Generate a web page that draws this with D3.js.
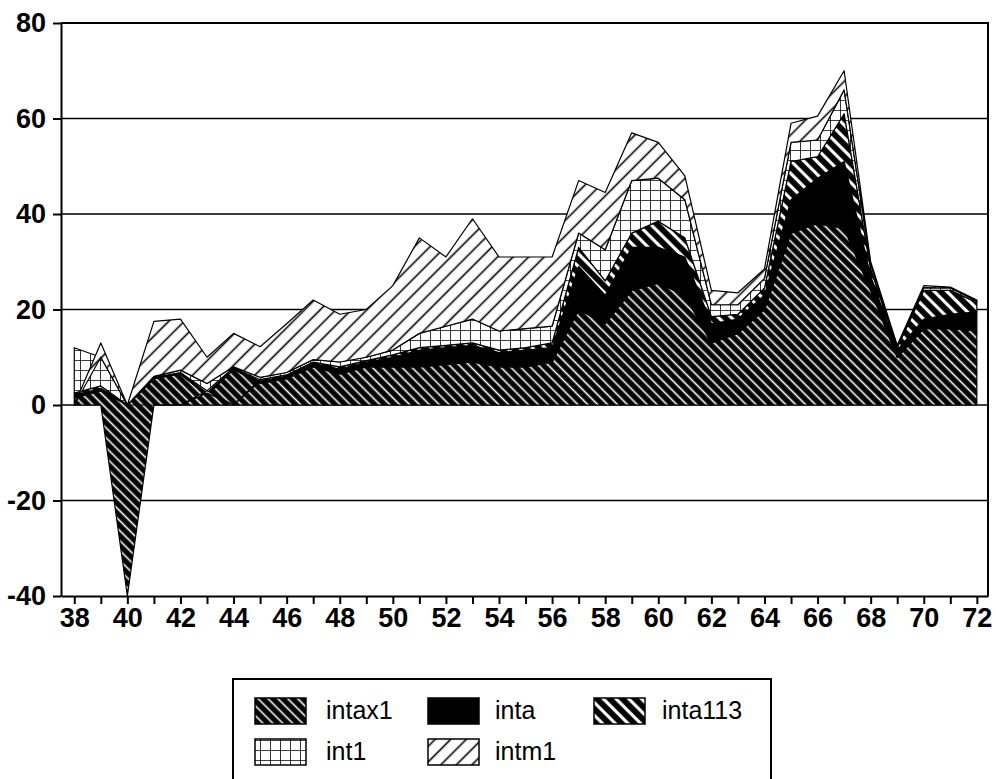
<!DOCTYPE html>
<html>
<head>
<meta charset="utf-8">
<script src="https://cdn.jsdelivr.net/npm/d3@7"></script>
<style>
    body { margin: 0; background: #fff; }
    svg { display: block; font-family: "Liberation Sans", Arial, sans-serif; }
    .axis text { font-size: 27px; font-weight: bold; fill: #000; }
    .axis path, .axis line { stroke: #000; stroke-width: 2; }
</style>
</head>
<body>
<div id="chart"></div>
<script>
// years 1938 - 1972, shown as 2 digits
const years = [38, 39, 40, 41, 42, 43, 44, 45, 46, 47, 48, 49, 50, 51, 52, 53, 54, 55, 56,
    57, 58, 59, 60, 61, 62, 63, 64, 65, 66, 67, 68, 69, 70, 71, 72];

const intax1 = [1.5, 3, -40, 5.5, 6.5, 2, 7.5, 4.5, 5.5, 8, 6.5, 8, 8, 8, 8.5, 9, 8, 8, 9,
    20, 17, 24, 25.5, 23, 13, 15, 20, 36, 38, 37, 24, 10, 16, 16, 15.5];
const inta = [0.5, 0.5, 0, 0.3, 0.3, 0.5, 0.3, 0.5, 0.5, 0.8, 1, 1, 2, 3.5, 3.5, 3.5, 3, 3.5, 3,
    9, 6, 9, 7.5, 8, 4, 3, 3, 7, 9.5, 14, 3, 1.5, 2, 3, 4];
const inta113 = [0.5, 0.5, 0, 0, 0, 0.5, 0, 0.3, 0.3, 0.2, 0.5, 0.3, 0.5, 0.5, 0.5, 0.5, 0.5, 0.5, 1,
    4, 3, 3, 5.5, 4, 1.5, 1, 1.5, 8, 4.5, 10, 1.5, 0.5, 6, 5, 2];
const int1 = [9.5, 6, 0, 0.2, 0.5, 1.5, 0.2, 0.5, 0.5, 0.5, 1, 0.7, 1, 3, 4, 5, 4, 4, 3.5,
    3, 6.5, 11, 9, 8, 2.5, 2, 2, 4, 3.5, 5, 1, 0.3, 0.6, 0.5, 0.3];
const intm1 = [0, 3, 0, 11.5, 10.7, 5.5, 7, 6.4, 10.2, 12.5, 10, 10, 13.5, 20, 14.5, 21, 15.5, 15, 14.5,
    11, 12, 10, 7.5, 5, 3, 2.5, 2, 4, 5, 4, 0.5, 0.2, 0.4, 0.2, 0.2];

const seriesNames = ['intax1', 'inta', 'inta113', 'int1', 'intm1'];
const yTicks = [-40, -20, 0, 20, 40, 60, 80];

const width = 996;
const height = 779;
const margin = {left: 61, right: 8, top: 23, bottom: 183};

const data = years.map((yr, i) => ({
    year: yr,
    intax1: intax1[i],
    inta: inta[i],
    inta113: inta113[i],
    int1: int1[i],
    intm1: intm1[i]
}));

const svg = d3.select('#chart')
    .append('svg')
    .attr('width', width)
    .attr('height', height);

svg.append('rect').attr('width', width).attr('height', height).attr('fill', '#fff');

/* hatch patterns */
const defs = svg.append('defs');

const addLines = (id, size, bg, fg, lw, angle) => {
    const p = defs.append('pattern')
        .attr('id', id)
        .attr('patternUnits', 'userSpaceOnUse')
        .attr('width', size)
        .attr('height', size)
        .attr('patternTransform', `rotate(${angle})`);
    p.append('rect').attr('width', size).attr('height', size).attr('fill', bg);
    p.append('line')
        .attr('x1', size / 2).attr('x2', size / 2)
        .attr('y1', 0).attr('y2', size)
        .attr('stroke', fg).attr('stroke-width', lw);
};

addLines('pat-intax1', 7, '#000', '#fff', 1.6, -45);
addLines('pat-inta113', 9, '#000', '#fff', 3.2, -45);
addLines('pat-intm1', 11, '#fff', '#000', 1.6, 45);

const grid = defs.append('pattern')
    .attr('id', 'pat-int1')
    .attr('patternUnits', 'userSpaceOnUse')
    .attr('width', 10)
    .attr('height', 10);
grid.append('rect').attr('width', 10).attr('height', 10).attr('fill', '#fff');
grid.append('path').attr('d', 'M0,0H10M0,0V10').attr('stroke', '#000').attr('stroke-width', 1.6);

const fills = {
    intax1: 'url(#pat-intax1)',
    inta: '#000',
    inta113: 'url(#pat-inta113)',
    int1: 'url(#pat-int1)',
    intm1: 'url(#pat-intm1)'
};

const x = d3.scaleLinear()
    .domain([37.5, 72.42])
    .range([margin.left, width - margin.right]);

const y = d3.scaleLinear()
    .domain([-40, 80])
    .range([height - margin.bottom, margin.top]);

// horizontal grid lines (behind the areas)
svg.append('g')
    .selectAll('line')
    .data(yTicks.filter(v => v > -40 && v < 80))
    .enter()
    .append('line')
    .attr('x1', margin.left)
    .attr('x2', width - margin.right)
    .attr('y1', d => y(d))
    .attr('y2', d => y(d))
    .attr('stroke', '#000')
    .attr('stroke-width', 1.6);

const stack = d3.stack()
    .keys(seriesNames)
    .offset(d3.stackOffsetDiverging);

const area = d3.area()
    .x(d => x(d.data.year))
    .y0(d => y(d[0]))
    .y1(d => y(d[1]));

svg.append('g')
    .selectAll('path')
    .data(stack(data))
    .enter()
    .append('path')
    .attr('d', area)
    .attr('fill', d => fills[d.key])
    .attr('stroke', '#000')
    .attr('stroke-width', 1.2)
    .attr('stroke-linejoin', 'round');

/* axes and frame */
svg.append('g')
    .attr('class', 'axis')
    .attr('transform', `translate(0, ${y(-40)})`)
    .call(d3.axisBottom(x)
        .tickValues(years)
        .tickFormat(d => d % 2 === 0 ? d : '')
        .tickSize(8)
        .tickPadding(4)
        .tickSizeOuter(0));

// plain hyphen for negatives, like the original
svg.append('g')
    .attr('class', 'axis')
    .attr('transform', `translate(${margin.left}, 0)`)
    .call(d3.axisLeft(y)
        .tickValues(yTicks)
        .tickFormat(d => String(d))
        .tickSize(8)
        .tickPadding(7)
        .tickSizeOuter(0));

svg.append('path')
    .attr('d', `M${margin.left},${y(80)}H${width - margin.right}V${y(-40)}`)
    .attr('fill', 'none')
    .attr('stroke', '#000')
    .attr('stroke-width', 2);

/* legend */
const legend = svg.append('g');

legend.append('rect')
    .attr('x', 233)
    .attr('y', 679)
    .attr('width', 538)
    .attr('height', 120)
    .attr('fill', '#fff')
    .attr('stroke', '#000')
    .attr('stroke-width', 2);

const legendPos = [
    {sx: 255, tx: 326, y: 698},
    {sx: 428, tx: 495, y: 698},
    {sx: 594, tx: 662, y: 698},
    {sx: 255, tx: 326, y: 739},
    {sx: 428, tx: 495, y: 739}
];

seriesNames.forEach((name, i) => {
    const p = legendPos[i];
    legend.append('rect')
        .attr('x', p.sx)
        .attr('y', p.y)
        .attr('width', 51)
        .attr('height', 26)
        .attr('fill', fills[name])
        .attr('stroke', '#000')
        .attr('stroke-width', 1.5);
    legend.append('text')
        .attr('x', p.tx)
        .attr('y', p.y + 21)
        .attr('font-size', 25)
        .text(name);
});
</script>
</body>
</html>
